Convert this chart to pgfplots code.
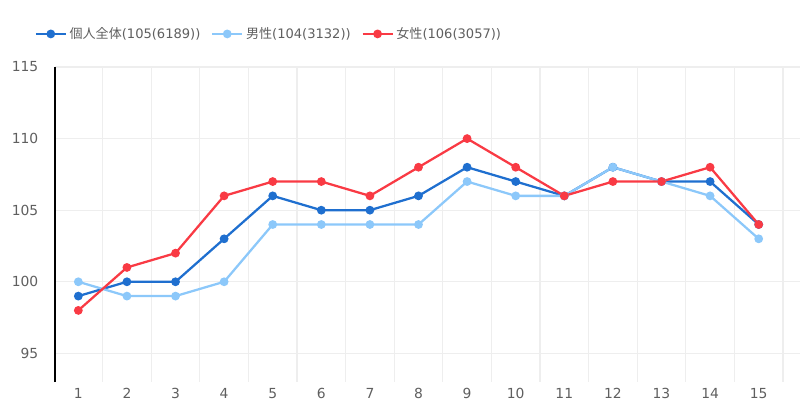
\documentclass[border=0pt]{standalone}
\usepackage{fontspec}
\setmainfont{DejaVu Sans}
\newfontfamily\jp{Noto Sans CJK JP}
\usepackage{pgfplots}
\pgfplotsset{compat=1.18}
\definecolor{cAll}{HTML}{1F6FCF}
\definecolor{cMale}{HTML}{8CC8FA}
\definecolor{cFem}{HTML}{F93A44}
\definecolor{cGrid}{HTML}{EEEEEE}
\definecolor{cText}{HTML}{5F5F5F}
\begin{document}
\begin{tikzpicture}[x=0.75pt,y=0.75pt]
\path[use as bounding box] (0,0) rectangle (800,419);
\begin{axis}[
  at={(55*0.75pt,37*0.75pt)}, anchor=south west,
  scale only axis, width=558.75pt, height=236.25pt,
  xmin=0.52, xmax=15.85, ymin=93, ymax=115,
  xtick={1,2,3,4,5,6,7,8,9,10,11,12,13,14,15}, ytick={95,100,105,110,115},
  minor xtick={1.5,2.5,3.5,4.5,5.5,6.5,7.5,8.5,9.5,10.5,11.5,12.5,13.5,14.5,15.5},
  xminorgrids=true, ymajorgrids=true,
  minor grid style={cGrid, line width=0.8pt},
  major grid style={cGrid, line width=0.8pt},
  axis x line*=bottom, axis y line*=left,
  x axis line style={draw=none},
  y axis line style={black, line width=1.6pt, -},
  major tick length=0pt, minor tick length=0pt,
  tick style={draw=none},
  /pgf/number format/assume math mode=true,
  ticklabel style={font=\fontsize{10.4}{12}\selectfont, text=cText},
  yticklabel style={xshift=-9pt},
  every x tick label/.append style={yshift=-1pt},
  legend columns=-1,
  legend style={draw=none, fill=none, at={(-0.033,1.105)}, anchor=west,
    font=\fontsize{9.8}{12}\selectfont, text=cText,
    /tikz/every even column/.append style={column sep=6pt}},
  legend image code/.code={
    \draw[mark repeat=2,mark phase=2] plot coordinates {(0pt,0pt) (11.25pt,0pt) (22.5pt,0pt)};},
  every axis plot/.append style={line width=1.7pt, mark=*, mark size=2.4pt},
]
\addplot[color=cAll] coordinates {(1,99)(2,100)(3,100)(4,103)(5,106)(6,105)(7,105)(8,106)(9,108)(10,107)(11,106)(12,108)(13,107)(14,107)(15,104)};
\addlegendentry{{\jp 個人全体}(105(6189))}
\addplot[color=cMale] coordinates {(1,100)(2,99)(3,99)(4,100)(5,104)(6,104)(7,104)(8,104)(9,107)(10,106)(11,106)(12,108)(13,107)(14,106)(15,103)};
\addlegendentry{{\jp 男性}(104(3132))}
\addplot[color=cFem] coordinates {(1,98)(2,101)(3,102)(4,106)(5,107)(6,107)(7,106)(8,108)(9,110)(10,108)(11,106)(12,107)(13,107)(14,108)(15,104)};
\addlegendentry{{\jp 女性}(106(3057))}
\end{axis}
\end{tikzpicture}
\end{document}
